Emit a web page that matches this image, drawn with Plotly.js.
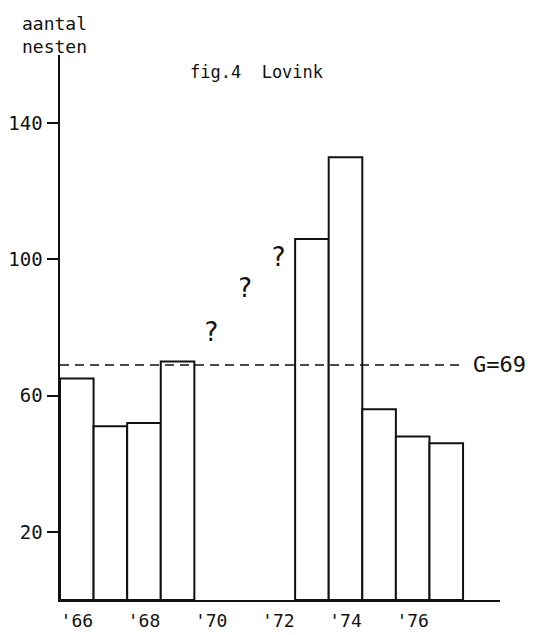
<!DOCTYPE html>
<html>
<head>
<meta charset="utf-8">
<script src="https://cdn.plot.ly/plotly-3.0.1.min.js"></script>
<style>
  html, body { margin: 0; padding: 0; background: #fff; }
  #chart { width: 536px; height: 635px; }
</style>
</head>
<body>
<div id="chart"></div>
<script>
// ---- data ----
var years = [1966, 1967, 1968, 1969, 1970, 1971, 1972, 1973, 1974, 1975, 1976, 1977];
var nests = [65, 51, 52, 70, null, null, null, 106, 130, 56, 48, 46];
var average = 69;                          // G = 69
var averageLabel = "G=69";
var unknownYears = [1970, 1971, 1972];     // years without counts ("?")
var unknownMarkY = [78, 91, 100];
var xTickYears = [1966, 1968, 1970, 1972, 1974, 1976];
var xTickLabels = ["'66", "'68", "'70", "'72", "'74", "'76"];
var yTicks = [20, 60, 100, 140];
var yTitleLines = ["aantal", "nesten"];
var figTitle = "fig.4\u00A0\u00A0Lovink";

var FONT = "DejaVu Sans Mono, monospace";
var INK = "#111";

var traces = [
  {
    type: "bar",
    x: years,
    y: nests,
    marker: { color: "#fff", line: { color: INK, width: 2 } },
    hoverinfo: "x+y",
    showlegend: false
  },
  {
    type: "scatter",
    mode: "text",
    x: unknownYears,
    y: unknownMarkY,
    text: unknownYears.map(function () { return "?"; }),
    textfont: { family: FONT, size: 26, color: INK },
    textposition: "middle center",
    hoverinfo: "skip",
    showlegend: false,
    cliponaxis: false
  }
];

var layout = {
  width: 536,
  height: 635,
  margin: { l: 60, r: 36, t: 55, b: 35 },
  paper_bgcolor: "#fff",
  plot_bgcolor: "#fff",
  bargap: 0,
  showlegend: false,
  font: { family: FONT, color: INK },
  xaxis: {
    range: [1965.5, 1978.6],
    showgrid: false,
    zeroline: false,
    showline: true,
    linecolor: INK,
    linewidth: 2,
    ticks: "",
    tickvals: xTickYears,
    ticktext: xTickLabels,
    tickfont: { family: FONT, size: 18, color: INK },
    ticklabelstandoff: 3,
    fixedrange: true
  },
  yaxis: {
    range: [0, 160],
    showgrid: false,
    zeroline: false,
    showline: true,
    linecolor: INK,
    linewidth: 2.5,
    ticks: "outside",
    ticklen: 11,
    tickwidth: 2,
    tickcolor: INK,
    tickvals: yTicks,
    ticktext: yTicks.map(String),
    tickfont: { family: FONT, size: 19, color: INK },
    ticklabelstandoff: 0,
    fixedrange: true
  },
  shapes: [
    {
      type: "line",
      xref: "paper", yref: "y",
      x0: 0, x1: 0.92,
      y0: average, y1: average,
      line: { color: INK, width: 1.5, dash: "9px,6px" }
    }
  ],
  annotations: [
    {
      xref: "paper", yref: "y",
      x: 0.933, y: average,
      xanchor: "left", yanchor: "middle",
      text: averageLabel,
      showarrow: false,
      font: { family: FONT, size: 22, color: INK }
    },
    {
      xref: "paper", yref: "paper",
      x: 0.2909, y: 0.9688,
      xanchor: "left", yanchor: "middle",
      text: figTitle,
      showarrow: false,
      font: { family: FONT, size: 17, color: INK }
    },
    {
      xref: "paper", yref: "paper",
      x: -0.09, y: (600 - 11) / 545,
      xanchor: "left", yanchor: "top",
      align: "left",
      text: yTitleLines.join("<br>"),
      showarrow: false,
      font: { family: FONT, size: 18, color: INK }
    }
  ]
};

Plotly.newPlot("chart", traces, layout, { staticPlot: true, displayModeBar: false });
</script>
</body>
</html>
